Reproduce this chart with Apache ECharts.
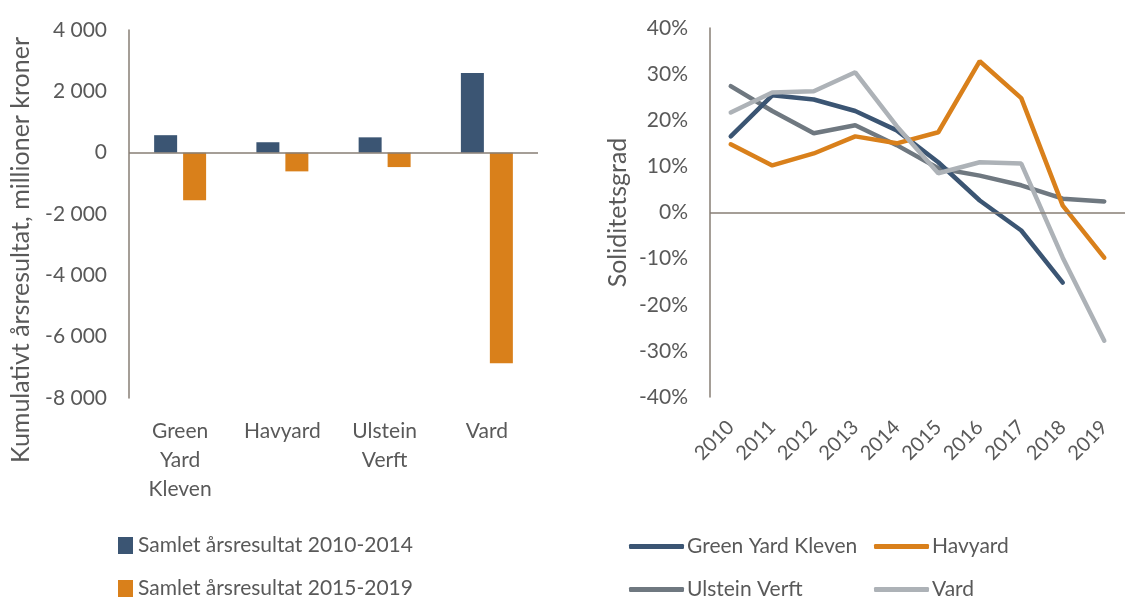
<!DOCTYPE html>
<html>
<head>
<meta charset="utf-8">
<script src="https://cdn.jsdelivr.net/npm/echarts@6/dist/echarts.min.js"></script>
<style>
  html, body { margin:0; padding:0; background:#fff; }
  #main { width:1125px; height:597px; }
</style>
</head>
<body>
<div id="main"></div>
<script>
// left chart: cumulative result per yard (mill. NOK)
var yards = ['Green\nYard\nKleven', 'Havyard', 'Ulstein\nVerft', 'Vard']
var res_2010_2014 = [570, 340, 500, 2600]
var res_2015_2019 = [-1550, -610, -470, -6870]

// right chart: equity ratio (%)
var years = ['2010','2011','2012','2013','2014','2015','2016','2017','2018','2019']
var gyk = [16.5, 25.4, 24.5, 22.0, 17.8, 10.9, 2.6, -3.9, -15.2, null]
var havyard = [14.8, 10.2, 12.8, 16.5, 15.0, 17.4, 32.8, 24.8, 1.5, -9.8]
var ulstein = [27.4, 22.0, 17.2, 18.9, 14.6, 9.6, 8.0, 5.9, 3.0, 2.4]
var vard = [21.7, 26.0, 26.3, 30.4, 18.7, 8.5, 10.9, 10.6, -9.8, -27.8]

var txt = '#595959'
var axisCol = '#877e74'
var font = 'Lato'
var c_blue = '#3b5573', c_orange = '#d9801b', c_dark = '#6f7880', c_light = '#adb2b7'

function thousands(v){
    var s = Math.abs(v).toString().replace(/\B(?=(\d{3})+(?!\d))/g, ' ')
    return (v < 0 ? '-' : '') + s
}

var myChart = echarts.init(document.getElementById('main'))

function barLegend(name, top){
    return {
        data: [name], left: 113, top: top,
        icon: 'rect', itemWidth: 15, itemHeight: 17,
        textStyle: { color: txt, fontFamily: font, fontSize: 21 }
    }
}
function lineLegend(name, left, top){
    return {
        data: [name], left: left, top: top,
        icon: 'roundRect', itemWidth: 55, itemHeight: 5,
        textStyle: { color: txt, fontFamily: font, fontSize: 21, padding: [0,0,0,-2] }
    }
}
var zeroLine = {
    silent: true, symbol: 'none', label: { show: false },
    lineStyle: { color: axisCol, width: 1.5, type: 'solid' },
    data: [{ yAxis: 0 }]
}

var option = {
    animation: false,
    textStyle: { fontFamily: font },
    graphic: [{
        type: 'text', x: 21, y: 250, rotation: Math.PI/2,
        style: { text: 'Kumulativt årsresultat, millioner kroner', fill: txt, font: '25px Lato', align: 'center', verticalAlign: 'middle' }
    }],
    grid: [
        { left: 129, top: 30, width: 409, height: 368 },
        { left: 710, top: 28, width: 420, height: 369 }
    ],
    legend: [
        barLegend('Samlet årsresultat 2010-2014', 530),
        barLegend('Samlet årsresultat 2015-2019', 573),
        lineLegend('Green Yard Kleven', 624, 531),
        lineLegend('Havyard', 869, 531),
        lineLegend('Ulstein Verft', 624, 574),
        lineLegend('Vard', 869, 574)
    ],
    xAxis: [
        {
            gridIndex: 0, type: 'category', data: yards,
            axisLine: { onZero: false, show: false }, axisTick: { show: false },
            axisLabel: { color: txt, fontFamily: font, fontSize: 21, lineHeight: 29, margin: 19 }
        },
        {
            gridIndex: 1, type: 'category', data: years,
            axisLine: { onZero: false, show: false }, axisTick: { show: false },
            axisLabel: { color: txt, fontFamily: font, fontSize: 20, rotate: 45, margin: 27, interval: 0 }
        }
    ],
    yAxis: [
        {
            gridIndex: 0, type: 'value', min: -8000, max: 4000, interval: 2000,
            axisLine: { show: true, lineStyle: { color: axisCol, width: 1.5 } },
            axisTick: { show: false }, splitLine: { show: false },
            axisLabel: { color: txt, fontFamily: font, fontSize: 21, margin: 22, formatter: thousands }
        },
        {
            gridIndex: 1, type: 'value', min: -40, max: 40, interval: 10,
            name: 'Soliditetsgrad', nameLocation: 'middle', nameGap: 80,
            nameTextStyle: { color: txt, fontFamily: font, fontSize: 25 },
            axisLine: { show: true, lineStyle: { color: axisCol, width: 1.5 } },
            axisTick: { show: false }, splitLine: { show: false },
            axisLabel: { color: txt, fontFamily: font, fontSize: 21, margin: 22, formatter: '{value}%' }
        }
    ],
    series: [
        { name: 'Samlet årsresultat 2010-2014', type: 'bar', xAxisIndex: 0, yAxisIndex: 0,
          data: res_2010_2014, barWidth: 23, barGap: '26%', itemStyle: { color: c_blue },
          markLine: zeroLine },
        { name: 'Samlet årsresultat 2015-2019', type: 'bar', xAxisIndex: 0, yAxisIndex: 0,
          data: res_2015_2019, barWidth: 23, barGap: '26%', itemStyle: { color: c_orange } },
        { name: 'Ulstein Verft', type: 'line', xAxisIndex: 1, yAxisIndex: 1, data: ulstein,
          showSymbol: false, lineStyle: { color: c_dark, width: 4.5, cap: 'round' }, itemStyle: { color: c_dark },
          markLine: zeroLine },
        { name: 'Green Yard Kleven', type: 'line', xAxisIndex: 1, yAxisIndex: 1, data: gyk,
          showSymbol: false, lineStyle: { color: c_blue, width: 4.5, cap: 'round' }, itemStyle: { color: c_blue } },
        { name: 'Havyard', type: 'line', xAxisIndex: 1, yAxisIndex: 1, data: havyard,
          showSymbol: false, lineStyle: { color: c_orange, width: 4.5, cap: 'round' }, itemStyle: { color: c_orange } },
        { name: 'Vard', type: 'line', xAxisIndex: 1, yAxisIndex: 1, data: vard,
          showSymbol: false, lineStyle: { color: c_light, width: 4.5, cap: 'round' }, itemStyle: { color: c_light } }
    ]
}

myChart.setOption(option)
</script>
</body>
</html>
